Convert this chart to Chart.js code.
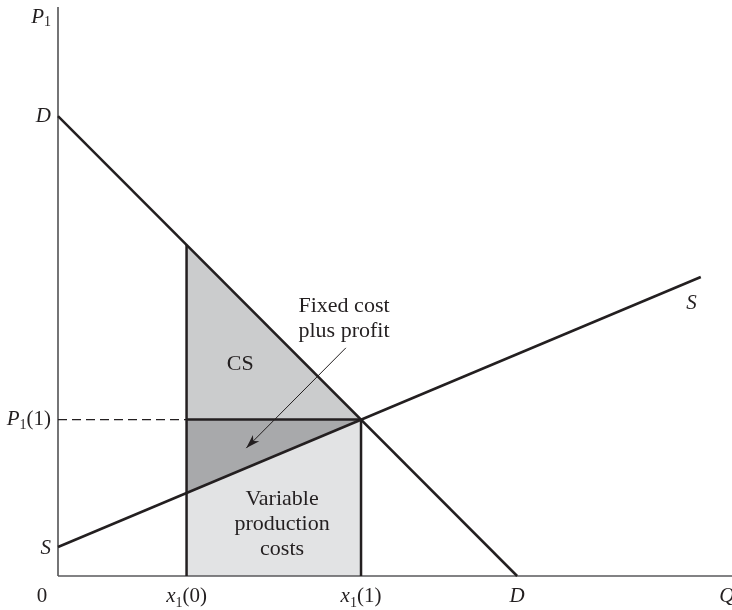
<!DOCTYPE html>
<html>
<head>
<meta charset="utf-8">
<script src="https://cdn.jsdelivr.net/npm/chart.js@4.4.1/dist/chart.umd.min.js"></script>
<style>
  html, body { margin: 0; padding: 0; background: #fff; }
  #wrap { width: 732px; height: 610px; position: relative; }
</style>
</head>
<body>
<div id="wrap"><canvas id="grafico"></canvas></div>
<script>
// curvas (Q, P)
const demandQ = [0, 10];
const demandP = [10, 0];
const supplyQ = [0, 14];
const supplyP = [0.63, 6.5];

// equilibrio y cantidad inicial
const x1Old = 2.8;
const x1New = 6.6;
const p1New = 3.4;
const demandAtOld = 7.2;
const supplyAtOld = 1.8;

// rango de los ejes
const qMax = 14.68;
const pMax = 12.37;

// etiquetas de los ejes ("_" = subindice)
const qTicks = [0, x1Old, x1New, 10, 14.57];
const qTickLabels = ['0', 'x_1(0)', 'x_1(1)', 'D', 'Q'];
const pTicks = [12.15, 10, p1New, 0.6];
const pTickLabels = ['P_1', 'D', 'P_1(1)', 'S'];

const INK = '#231f20';
const FONT = '"Liberation Serif", "DejaVu Serif", serif';

function pts(xs, ys) {
    return xs.map((x, i) => ({ x: x, y: ys[i] }));
}

// texto con cursiva y subindices
function parts(label) {
    const out = [];
    for (let i = 0; i < label.length; i++) {
        const c = label[i];
        if (c === '_') { out.push({ t: label[i + 1], sub: true }); i++; }
        else out.push({ t: c, italic: /[A-Za-z]/.test(c) });
    }
    return out;
}

function fontFor(p, size) {
    if (p.sub) return Math.round(size * 0.68) + 'px ' + FONT;
    return (p.italic ? 'italic ' : '') + size + 'px ' + FONT;
}

function drawRich(ctx, label, x, y, align, size) {
    const ps = parts(label);
    let w = 0;
    ps.forEach(p => { ctx.font = fontFor(p, size); p.w = ctx.measureText(p.t).width; w += p.w; });
    let cx = align === 'right' ? x - w : align === 'center' ? x - w / 2 : x;
    ps.forEach(p => {
        ctx.font = fontFor(p, size);
        ctx.fillText(p.t, cx, p.sub ? y + size * 0.25 : y);
        cx += p.w;
    });
}

const textos = {
    id: 'textos',
    afterDatasetsDraw(chart) {
        const ctx = chart.ctx;
        const xs = chart.scales.x, ys = chart.scales.y;
        const size = 21;
        ctx.save();
        ctx.fillStyle = INK;

        // eje horizontal
        ctx.textBaseline = 'alphabetic';
        qTicks.forEach((v, i) => {
            drawRich(ctx, qTickLabels[i], xs.getPixelForValue(v) + (i === 0 ? -16 : 0), ys.getPixelForValue(0) + 26, 'center', size);
        });
        // eje vertical
        ctx.textBaseline = 'middle';
        pTicks.forEach((v, i) => {
            drawRich(ctx, pTickLabels[i], xs.getPixelForValue(0) - 7, ys.getPixelForValue(v), 'right', size);
        });
        // S al final de la oferta
        drawRich(ctx, 'S', xs.getPixelForValue(13.8), ys.getPixelForValue(5.93), 'center', size);

        // rotulos de areas
        ctx.textBaseline = 'alphabetic';
        ctx.font = '22px ' + FONT;
        ctx.textAlign = 'center';
        ctx.fillText('CS', xs.getPixelForValue(3.97), ys.getPixelForValue(4.48));
        const fx = xs.getPixelForValue(6.23), fy = ys.getPixelForValue(5.74);
        ctx.fillText('Fixed cost', fx, fy);
        ctx.fillText('plus profit', fx, fy + 25);
        const vx = xs.getPixelForValue(4.88), vy = ys.getPixelForValue(1.54);
        ctx.fillText('Variable', vx, vy);
        ctx.fillText('production', vx, vy + 25);
        ctx.fillText('costs', vx, vy + 50);

        // punta de la flecha
        const meta = chart.getDatasetMeta(chart.data.datasets.findIndex(d => d.label === 'flecha'));
        const a = meta.data[0], b = meta.data[1];
        const ang = Math.atan2(b.y - a.y, b.x - a.x);
        ctx.translate(b.x, b.y);
        ctx.rotate(ang);
        ctx.beginPath();
        ctx.moveTo(0, 0);
        ctx.lineTo(-14, -4.5);
        ctx.lineTo(-10, 0);
        ctx.lineTo(-14, 4.5);
        ctx.closePath();
        ctx.fill();
        ctx.restore();
    }
};

function linea(label, data, extra) {
    return Object.assign({
        label: label,
        data: data,
        showLine: true,
        borderColor: INK,
        borderWidth: 2.5,
        pointRadius: 0,
        fill: false,
        clip: false,
        tension: 0,
        order: 0
    }, extra || {});
}

const config = {
    type: 'scatter',
    data: {
        datasets: [
            // areas (debajo de todo)
            linea('cs', pts([x1Old, x1New], [demandAtOld, p1New]), {
                borderWidth: 0, fill: { value: p1New }, backgroundColor: '#cbcccd', order: 10
            }),
            linea('fijo', pts([x1Old, x1New], [supplyAtOld, p1New]), {
                borderWidth: 0, fill: { value: p1New }, backgroundColor: '#a8a9ab', order: 10
            }),
            linea('variable', pts([x1Old, x1New], [supplyAtOld, p1New]), {
                borderWidth: 0, fill: { value: 0 }, backgroundColor: '#e2e3e4', order: 10
            }),
            // ejes
            linea('ejeQ', pts([0, qMax], [0, 0]), { borderColor: '#58595b', borderWidth: 1.6, order: 5 }),
            linea('ejeP', pts([0, 0], [0, pMax]), { borderColor: '#3a3a3c', borderWidth: 1.4, order: 5 }),
            // guias
            linea('guiaP', pts([0, x1Old], [p1New, p1New]), { borderWidth: 1.4, borderDash: [9, 5], order: 4 }),
            linea('precio', pts([x1Old, x1New], [p1New, p1New]), { order: 3 }),
            linea('x0', pts([x1Old, x1Old], [0, demandAtOld]), { order: 3 }),
            linea('x1', pts([x1New, x1New], [0, p1New]), { order: 3 }),
            // curvas
            linea('D', pts(demandQ, demandP), { order: 1 }),
            linea('S', pts(supplyQ, supplyP), { order: 1 }),
            linea('flecha', pts([6.27, 4.1], [4.96, 2.78]), { borderWidth: 1, order: 0 })
        ]
    },
    options: {
        responsive: true,
        maintainAspectRatio: false,
        animation: false,
        layout: { padding: { left: 58, right: 0, top: 7, bottom: 34 } },
        plugins: {
            legend: { display: false },
            tooltip: { enabled: false },
            filler: { propagate: false }
        },
        scales: {
            x: { type: 'linear', display: false, min: 0, max: qMax },
            y: { type: 'linear', display: false, min: 0, max: pMax }
        }
    },
    plugins: [textos]
};

document.addEventListener('DOMContentLoaded', () => {
    const ctx = document.getElementById('grafico').getContext('2d');
    new Chart(ctx, config);
});
</script>
</body>
</html>
